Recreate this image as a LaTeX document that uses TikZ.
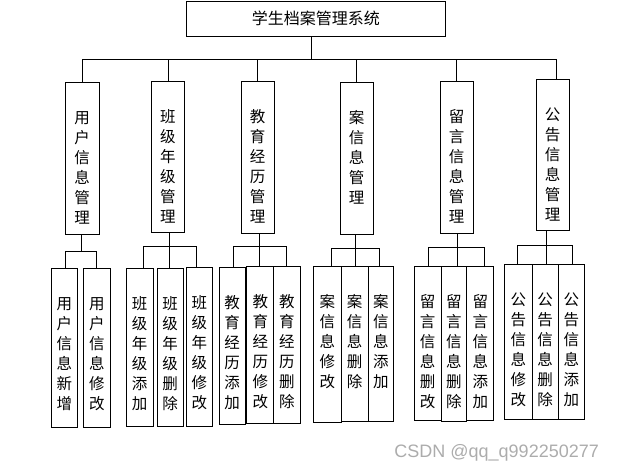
\documentclass[tikz,border=0pt]{standalone}
\usepackage{fontspec}
\newfontfamily\cjk{Noto Sans CJK SC}
\newfontfamily\wmfont{Liberation Sans}
\newcommand\vtext[1]{\parbox[t]{16pt}{\centering #1}}
\begin{document}
\begin{tikzpicture}[x=1pt,y=-1pt,line width=0.9pt,
        sysbox/.style={draw,anchor=north west,inner sep=0pt,font=\cjk\fontsize{16}{20}\selectfont},
        colbox/.style={draw,anchor=north west,inner sep=0pt,text height=41pt,font=\cjk\fontsize{15.5}{20}\selectfont}]
        \useasboundingbox (0,0) rectangle (618,471);
        \node [sysbox,minimum width=259pt,minimum height=35.5pt] (root) at (186,0.5) {学生档案管理系统};
        % first level
        \node [colbox,minimum width=33.5pt,text depth=111pt] (u1) at (65,82) {\vtext{用\\户\\信\\息\\管\\理}};
        \node [colbox,minimum width=33pt,text depth=110pt] (u2) at (151,81) {\vtext{班\\级\\年\\级\\管\\理}};
        \node [colbox,minimum width=32.5pt,text depth=111pt] (u3) at (241,81) {\vtext{教\\育\\经\\历\\管\\理}};
        \node [colbox,minimum width=32.5pt,text depth=111pt] (u4) at (340,82) {\vtext{案\\信\\息\\管\\理}};
        \node [colbox,minimum width=32.5pt,text depth=111pt] (u5) at (440,81) {\vtext{留\\言\\信\\息\\管\\理}};
        \node [colbox,minimum width=32.5pt,text depth=110pt] (u6) at (536,79) {\vtext{公\\告\\信\\息\\管\\理}};
        % second level
        \node [colbox,minimum width=25.4pt,text depth=118pt] (a1) at (51.3,268) {\vtext{用\\户\\信\\息\\新\\增}};
        \node [colbox,minimum width=27.6pt,text depth=118pt] (a2) at (82.7,268) {\vtext{用\\户\\信\\息\\修\\改}};
        \node [colbox,minimum width=27pt,text depth=117pt] (b1) at (125.7,268) {\vtext{班\\级\\年\\级\\添\\加}};
        \node [colbox,minimum width=26pt,text depth=117pt] (b2) at (156.7,268) {\vtext{班\\级\\年\\级\\删\\除}};
        \node [colbox,minimum width=26.6pt,text depth=117.5pt] (b3) at (185.7,267) {\vtext{班\\级\\年\\级\\修\\改}};
        \node [colbox,minimum width=26pt,text depth=116pt] (c1) at (218.7,267) {\vtext{教\\育\\经\\历\\添\\加}};
        \node [colbox,minimum width=27pt,text depth=116pt] (c2) at (246.3,266) {\vtext{教\\育\\经\\历\\修\\改}};
        \node [colbox,minimum width=26.4pt,text depth=116pt] (c3) at (273.3,266) {\vtext{教\\育\\经\\历\\删\\除}};
        \node [colbox,minimum width=27.4pt,text depth=115.3pt] (d1) at (313.3,266) {\vtext{案\\信\\息\\修\\改}};
        \node [colbox,minimum width=27pt,text depth=114pt] (d2) at (340.7,266) {\vtext{案\\信\\息\\删\\除}};
        \node [colbox,minimum width=25.6pt,text depth=114pt] (d3) at (367.7,266) {\vtext{案\\信\\息\\添\\加}};
        \node [colbox,minimum width=27pt,text depth=113.3pt] (e1) at (413.7,266) {\vtext{留\\言\\信\\息\\删\\改}};
        \node [colbox,minimum width=25.6pt,text depth=114pt] (e2) at (440.7,266) {\vtext{留\\言\\信\\息\\删\\除}};
        \node [colbox,minimum width=27pt,text depth=113pt] (e3) at (466.3,266) {\vtext{留\\言\\信\\息\\添\\加}};
        \node [colbox,minimum width=27.4pt,text depth=114pt] (f1) at (504.3,264.3) {\vtext{公\\告\\信\\息\\修\\改}};
        \node [colbox,minimum width=26pt,text depth=114pt] (f2) at (531.7,264.3) {\vtext{公\\告\\信\\息\\删\\除}};
        \node [colbox,minimum width=26.6pt,text depth=114pt] (f3) at (557.7,264.3) {\vtext{公\\告\\信\\息\\添\\加}};
        % connectors from the system box
        \coordinate (top) at (311,59);
        \draw (top |- root.south) -- (top);
        \draw (82,59) -- (556,59);
        \foreach \n/\x in {u1/82,u2/168,u3/257,u4/356,u5/456,u6/556}
            \draw (\x,59) -- (\x,59 |- \n.north);
        % connectors to the second level
        \foreach \p/\x/\y/\xl/\xr/\l/\r in {u1/81.7/251.3/65/96/a1/a2,u2/169.7/246.3/143.7/196.3/b1/b3,
                u3/259.7/246.3/233.7/286.3/c1/c3,u4/355.3/248.3/331.7/379.3/d1/d3,
                u5/457.3/247.7/428.3/484.3/e1/e3,u6/546.7/245.7/517.3/572.7/f1/f3} {
            \draw (\x,\y |- \p.south) -- (\x,\y);
            \draw (\xl,\y |- \l.north) -- (\xl,\y) -- (\xr,\y) -- (\xr,\y |- \r.north);
        }
        \foreach \x/\y/\m in {169.7/246.3/b2,259.7/246.3/c2,355.3/248.3/d2,457.3/247.7/e2,546.7/245.7/f2}
            \draw (\x,\y) -- (\x,\y |- \m.north);
        \node [anchor=base west,text=gray!65,font=\wmfont\fontsize{18}{20}\selectfont,inner sep=0pt] (mark) at (394,457) {CSDN @qq\_q992250277};
\end{tikzpicture}
\end{document}
